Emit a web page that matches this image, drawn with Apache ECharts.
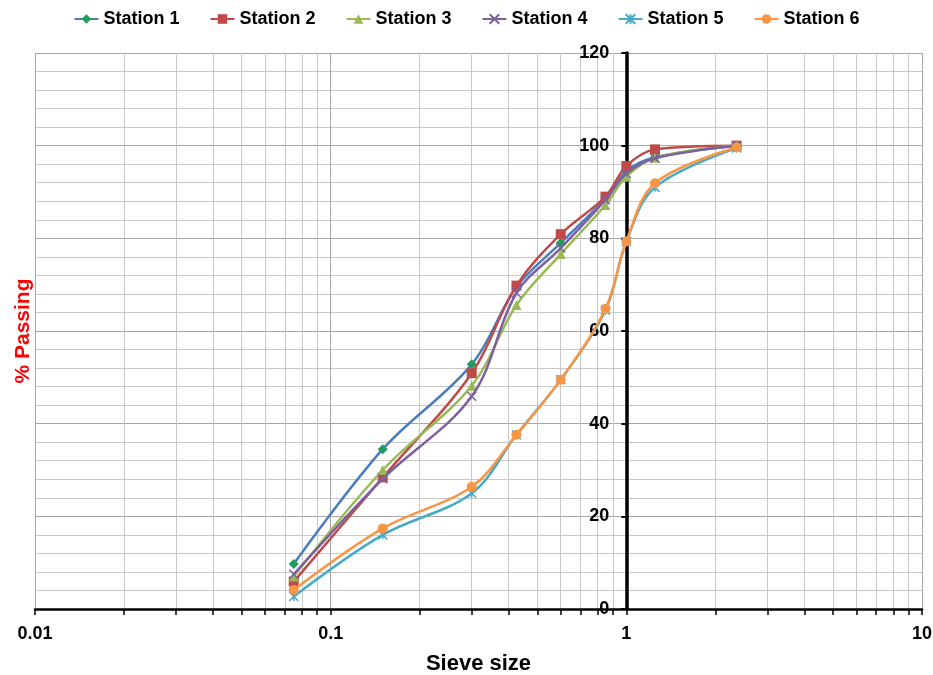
<!DOCTYPE html>
<html>
<head>
<meta charset="utf-8">
<script src="https://cdn.jsdelivr.net/npm/echarts@6/dist/echarts.min.js"></script>
<style>html,body{margin:0;padding:0;background:#fff}#c{width:933px;height:675px}</style>
</head>
<body>
<div id="c"></div>
<script>
// Data
const sieveSizes = [0.075, 0.15, 0.3, 0.425, 0.6, 0.85, 1.0, 1.25, 2.36];
const station1 = [9.7, 34.5, 52.8, 69.5, 79.0, 88.6, 94.5, 97.5, 100];
const station2 = [5.9, 28.4, 50.9, 69.8, 80.9, 89.0, 95.6, 99.2, 100];
const station3 = [7.0, 30.0, 48.2, 65.6, 76.6, 87.2, 93.3, 97.4, 100];
const station4 = [7.5, 28.1, 45.9, 68.2, 77.9, 88.3, 94.0, 97.3, 100];
const station5 = [2.7, 16.0, 25.0, 37.6, 49.5, 64.5, 79.3, 91.0, 99.5];
const station6 = [4.1, 17.4, 26.4, 37.6, 49.5, 64.8, 79.3, 91.9, 99.6];
const seriesNames = ['Station 1', 'Station 2', 'Station 3', 'Station 4', 'Station 5', 'Station 6'];
const xMajorTicks = [0.01, 0.1, 1, 10];
const xAllTicks = [0.01,0.02,0.03,0.04,0.05,0.06,0.07,0.08,0.09,
                   0.1,0.2,0.3,0.4,0.5,0.6,0.7,0.8,0.9,
                   1,2,3,4,5,6,7,8,9,10];

const values = [station1, station2, station3, station4, station5, station6];
const pair = arr => sieveSizes.map((x, i) => [x, arr[i]]);

const FONT = 'Liberation Sans, Arial, sans-serif';
const styles = [
  {line: '#4A7EBB', fill: '#1E9E5A', symbol: 'diamond', size: 10},
  {line: '#BE4B48', fill: '#BE4B48', symbol: 'rect', size: 10},
  {line: '#98B954', fill: '#98B954', symbol: 'triangle', size: 10},
  {line: '#7D60A0', fill: '#7D60A0', symbol: 'path://M0,0L10,10M10,0L0,10', size: 9, stroke: true},
  {line: '#46AAC5', fill: '#46AAC5', symbol: 'path://M0,0L10,10M10,0L0,10M5,0L5,10', size: 9, stroke: true},
  {line: '#F79646', fill: '#F79646', symbol: 'circle', size: 10}
];

const chart = echarts.init(document.getElementById('c'), null, {renderer: 'canvas'});
const gridLeft = 35, gridRight = 11;
const plotW = 933 - gridLeft - gridRight;
const xOneOffset = plotW * 2 / 3; // position of x = 1 within 3 decades

const series = values.map((v, i) => {
  const s = styles[i];
  return {
    name: seriesNames[i],
    type: 'line',
    data: pair(v),
    smooth: 0.35,
    symbol: s.symbol,
    symbolSize: s.size,
    lineStyle: {color: s.line, width: 2.5},
    itemStyle: s.stroke ? {color: s.fill, borderColor: s.fill, borderWidth: 1.5} : {color: s.fill, borderWidth: 0},
    emphasis: {disabled: true},
    z: 3 + i
  };
});

chart.setOption({
  animation: false,
  backgroundColor: '#fff',
  legend: {
    top: 5,
    left: 'center',
    itemGap: 30,
    itemWidth: 24,
    itemHeight: 12,
    textStyle: {fontFamily: FONT, fontSize: 18, fontWeight: 'bold', color: '#000'},
    data: seriesNames
  },
  grid: {left: gridLeft, right: gridRight, top: 53, bottom: 66, containLabel: false, outerBoundsMode: 'none'},
  xAxis: [{
    type: 'log',
    logBase: 10,
    min: 0.01,
    max: 10,
    name: 'Sieve size',
    nameLocation: 'middle',
    nameGap: 44,
    nameTextStyle: {fontFamily: FONT, fontSize: 22, fontWeight: 'bold', color: '#000'},
    axisLine: {show: true, onZero: false, lineStyle: {color: '#000', width: 2.5}},
    axisTick: {show: true, inside: false, length: 6, customValues: xAllTicks, lineStyle: {color: '#000', width: 1.5}},
    axisLabel: {customValues: xMajorTicks, fontFamily: FONT, fontSize: 18, fontWeight: 'bold', color: '#000', margin: 16,
      formatter: v => String(v)},
    splitLine: {show: true, lineStyle: {color: '#C8C8C8', width: 1}}
  }, {
    type: 'log',
    logBase: 10,
    min: 0.01,
    max: 10,
    position: 'bottom',
    axisLine: {show: false},
    axisTick: {show: false, customValues: xMajorTicks},
    axisLabel: {show: false, customValues: xMajorTicks},
    splitLine: {show: true, lineStyle: {color: '#A6A6A6', width: 1}}
  }],
  yAxis: {
    type: 'value',
    min: 0,
    max: 120,
    interval: 20,
    position: 'left',
    offset: -xOneOffset,
    name: '% Passing',
    nameLocation: 'middle',
    nameRotate: 90,
    nameGap: xOneOffset + 1,
    nameTextStyle: {fontFamily: FONT, fontSize: 21, fontWeight: 'bold', color: '#FF0000'},
    axisLine: {show: true, lineStyle: {color: '#000', width: 3.5}},
    axisTick: {show: true, length: 5, lineStyle: {color: '#000', width: 2}},
    axisLabel: {fontFamily: FONT, fontSize: 18, fontWeight: 'bold', color: '#000', margin: 17},
    minorTick: {show: false, splitNumber: 5},
    splitLine: {show: true, lineStyle: {color: '#A6A6A6', width: 1}},
    minorSplitLine: {show: true, lineStyle: {color: '#C8C8C8', width: 1}}
  },
  series: series
});
</script>
</body>
</html>
